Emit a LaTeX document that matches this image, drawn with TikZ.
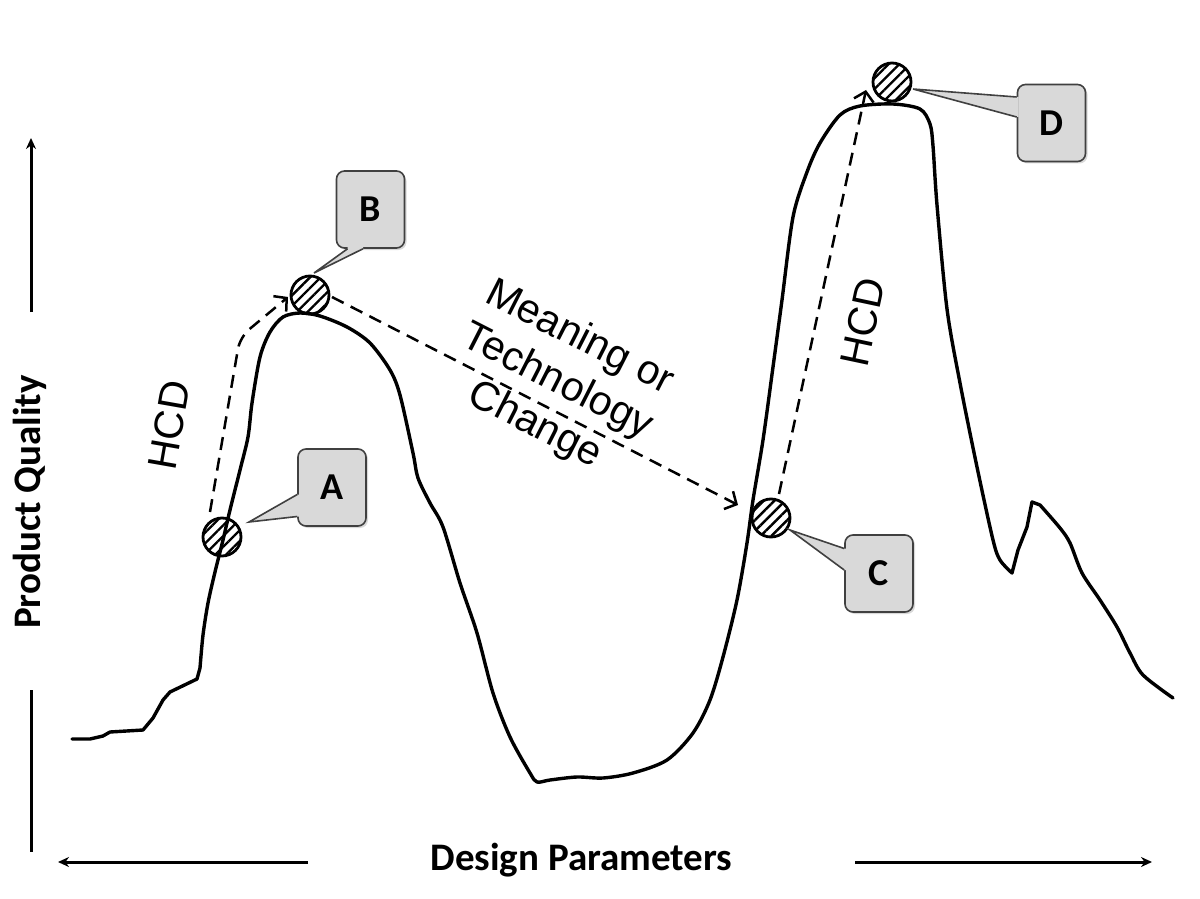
\documentclass[tikz,border=0pt]{standalone}
\usepackage{fontspec}
\newfontfamily\calfont{Carlito}
\newfontfamily\arialfont{Liberation Sans}
\usetikzlibrary{calc,arrows.meta,patterns.meta,shadows}
\definecolor{calloutgray}{HTML}{D9D9D9}
\definecolor{calloutline}{HTML}{404040}
\begin{document}
\begin{tikzpicture}[x=0.5pt,y=-0.5pt,
	curveline/.style={line width=1.7pt,line join=round,line cap=round},
	axisline/.style={line width=1.5pt},
	axislabel/.style={font=\calfont\bfseries\fontsize{19.5}{23}\selectfont,inner sep=0pt},
	pathlabel/.style={font=\arialfont\fontsize{20.5}{24.5}\selectfont,inner sep=0pt,align=center},
	hatchdot/.style={circle,draw,line width=1.4pt,minimum size=19pt,inner sep=0pt,pattern={Lines[angle=45,distance=3.8pt,line width=1.2pt]}},
	callbox/.style={draw=calloutline,fill=calloutgray,line width=0.8pt,rounded corners=4pt,minimum width=34pt,minimum height=38.5pt,inner sep=0pt,font=\calfont\bfseries\fontsize{19}{19}\selectfont,drop shadow={opacity=0.3,shadow xshift=1pt,shadow yshift=-1pt}},
	pointerline/.style={draw=calloutline,line width=0.8pt},
	movearrow/.style={line width=1.25pt,dash pattern=on 6.5pt off 4pt,-{Straight Barb[length=4.5pt,width=10pt]}}]
			\useasboundingbox(0,0) rectangle (1200,899);
			\coordinate (yup) at (31,312);
			\coordinate (ytip) at (31,138);
			\coordinate (ylow) at (31,690);
			\coordinate (ybot) at (31,852);
			\coordinate (xleft) at (308,862);
			\coordinate (xlefttip) at (58,862);
			\coordinate (xright) at (855,862);
			\coordinate (xrighttip) at (1152,862);
			\draw[axisline,-{Stealth[length=5.5pt,width=5pt]}](yup)--(ytip);
			\draw[axisline](ylow)--(ybot);
			\draw[axisline,-{Stealth[length=5.5pt,width=5pt]}](xleft)--(xlefttip);
			\draw[axisline,-{Stealth[length=5.5pt,width=5pt]}](xright)--(xrighttip);
			\node[axislabel,rotate=90] (ylab) at(30,502){Product Quality};
			\node[axislabel,anchor=base] (xlab) at(581.5,870){Design Parameters};
			\draw[curveline] plot coordinates{(72,739)(90,739)(103,736)(110,732)(143,730)(153,718)(163,700)(170,692)(197,679)(200,668)}
				--plot[smooth,tension=0.5] coordinates{(200,668)(203,635)(208,603)(215,572)(223,540)(230,510)(240,470)(248,437)(252,403)(260,357)(270,332)(283,317)(300,313)(320,316)(347,327)(370,343)(390,370)(400,395)(413,453)(418,478)(430,503)(443,527)(460,583)(477,633)(493,693)(510,737)(530,773)(537,782)(550,780)(577,777)(603,778)(633,773)(667,760)(693,733)(710,700)(723,657)(737,600)(747,543)(753,500)(763,440)(773,367)(782,300)(793,217)(807,172)(820,143)(840,115)(860,106)(893,104)(920,109)(930,124)(933,146)(937,205)(947,309)(960,383)(977,467)(993,540)(1000,560)(1012,573)}
				--plot coordinates{(1018,550)(1027,527)(1032,502)(1040,505)}
				--plot[smooth,tension=0.5] coordinates{(1040,505)(1060,528)(1070,543)(1082,573)(1100,600)(1117,627)(1130,653)(1143,675)(1173,698)};
			\node[hatchdot] (circA) at(222,537){};
			\node[hatchdot] (circB) at(310,295){};
			\node[hatchdot] (circC) at(771,518){};
			\node[hatchdot] (circD) at(892,82){};
			\draw[movearrow,rounded corners=6pt]($(circA)+(-12,-25)$)--(240,337)--($(circB)+(-22,2)$);
			\draw[movearrow]($(circB)+(22,2)$)--($(circC)+(-33,-13)$);
			\draw[movearrow]($(circC)+(8,-24)$)--($(circD)+(-26,8)$);
			\node[pathlabel,rotate=80] (hcdleft) at(169,425){HCD};
			\node[pathlabel,rotate=78] (hcdright) at(863,322){HCD};
			\node[pathlabel,rotate=-27] (change) at(557,382){Meaning or\\Technology\\Change};
			\node[callbox] (boxA) at(332,487.5){A};
			\node[callbox] (boxB) at(370.5,209.5){B};
			\node[callbox] (boxC) at(879,573.5){C};
			\node[callbox] (boxD) at(1051.5,123){D};
			\fill[calloutgray]($(boxA.west)+(2,7)$)--($(boxA.west)+(0,7)$)--($(circA)+(27,-15)$)--($(boxA.west)+(0,29)$)--($(boxA.west)+(2,29)$)--cycle;
			\draw[pointerline]($(boxA.west)+(0,7)$)--($(circA)+(27,-15)$)--($(boxA.west)+(0,29)$);
			\fill[calloutgray]($(boxB.south)+(-23,-2)$)--($(boxB.south)+(-23,0)$)--($(circB)+(4,-22)$)--($(boxB.south)+(-7.5,0)$)--($(boxB.south)+(-7.5,-2)$)--cycle;
			\draw[pointerline]($(boxB.south)+(-23,0)$)--($(circB)+(4,-22)$)--($(boxB.south)+(-7.5,0)$);
			\fill[calloutgray]($(boxC.west)+(2,-25)$)--($(boxC.west)+(0,-25)$)--($(circC)+(19,12)$)--($(boxC.west)+(0,-3.5)$)--($(boxC.west)+(2,-3.5)$)--cycle;
			\draw[pointerline]($(boxC.west)+(0,-25)$)--($(circC)+(19,12)$)--($(boxC.west)+(0,-3.5)$);
			\fill[calloutgray]($(boxD.west)+(2,-26)$)--($(boxD.west)+(0,-26)$)--($(circD)+(21,7)$)--($(boxD.west)+(0,-6)$)--($(boxD.west)+(2,-6)$)--cycle;
			\draw[pointerline]($(boxD.west)+(0,-26)$)--($(circD)+(21,7)$)--($(boxD.west)+(0,-6)$);
			\end{tikzpicture}
\end{document}
